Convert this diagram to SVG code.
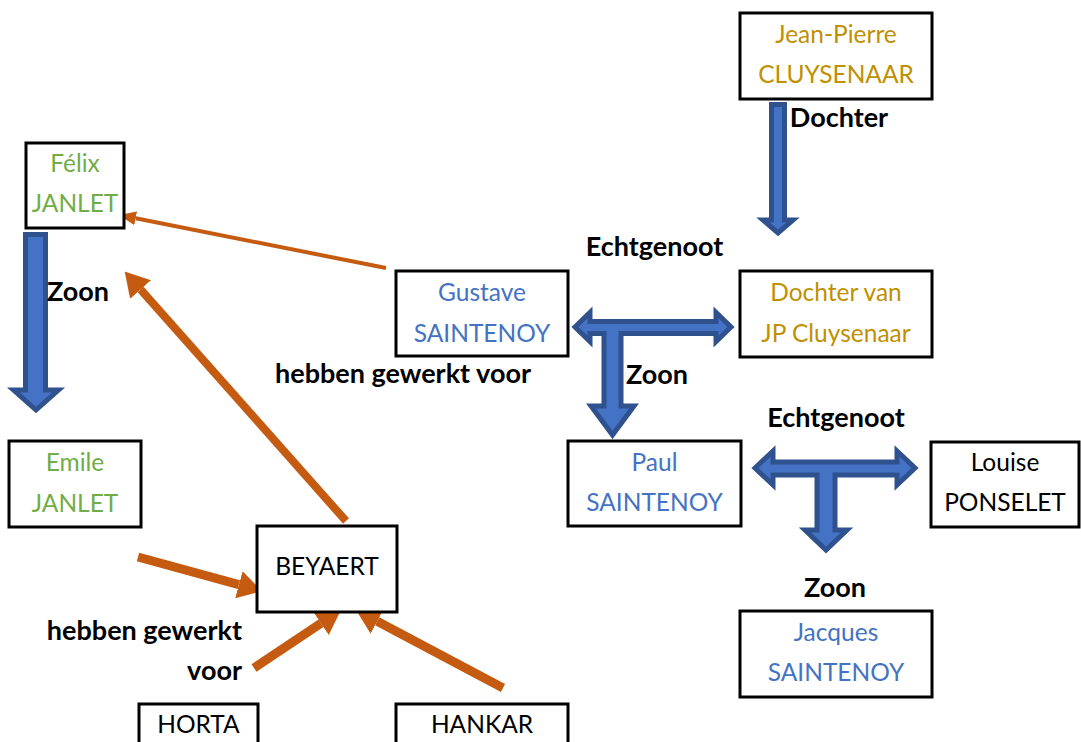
<svg xmlns="http://www.w3.org/2000/svg" width="1081" height="742" viewBox="0 0 1081 742">
<style>
.box{fill:#fff;stroke:#000;stroke-width:3}
.t{font-family:Lato,"Liberation Sans",sans-serif;font-size:24.5px;text-anchor:middle}
.lbl{font-family:Lato,"Liberation Sans",sans-serif;font-size:27px;font-weight:bold;fill:#000;text-anchor:middle}
.g{fill:#70AD47}.y{fill:#BF9000}.b{fill:#4472C4}.k{fill:#000}
.blk{fill:#4472C4;stroke:#2F528F;stroke-width:5;stroke-linejoin:miter}
.or{fill:none;stroke:#C55A11}
</style>
<defs>
<marker id="ahThin" markerUnits="userSpaceOnUse" viewBox="0 0 17 14" markerWidth="17" markerHeight="14" refX="0" refY="7" orient="auto"><path d="M0,0 L17,7 L0,14 Z" fill="#C55A11"/></marker>
<marker id="ahThick" markerUnits="userSpaceOnUse" viewBox="0 0 24 28" markerWidth="24" markerHeight="28" refX="0" refY="14" orient="auto"><path d="M0,0 L24,14 L0,28 Z" fill="#C55A11"/></marker>
</defs>
<rect width="1081" height="742" fill="#fff"/>
<g id="connectors">
<path class="blk" d="M771.5,104.5 H784.5 V220 H793 L778,233 L763,220 H771.5 Z"/>
<path class="blk" d="M25.5,234.5 H45.5 V390 H58.5 L36,410 L13.5,390 H25.5 Z"/>
<path class="blk" d="M575,327 L590,312.5 V321.5 H716 V312.5 L731,327 L716,341.5 V333.5 H621 V406 H634 L612.5,435 L591,406 H604 V333.5 H590 V341.5 Z"/>
<path class="blk" d="M755,468 L773,451 V462 H897 V451 L915,468 L897,485 V475 H835 V530 H847 L826,550 L805,530 H817 V475 H773 V485 Z"/>
<line class="or" x1="386" y1="268" x2="135.7" y2="218.3" stroke-width="4" marker-end="url(#ahThin)"/>
<line class="or" x1="346" y1="521" x2="140.6" y2="289.5" stroke-width="8" marker-end="url(#ahThick)"/>
<line class="or" x1="138" y1="557" x2="238.9" y2="584.7" stroke-width="9" marker-end="url(#ahThick)"/>
<line class="or" x1="254" y1="668" x2="321" y2="623.3" stroke-width="9" marker-end="url(#ahThick)"/>
<line class="or" x1="503" y1="688" x2="377.2" y2="621.3" stroke-width="9" marker-end="url(#ahThick)"/>
</g>
<g id="labels">
<text class="lbl" x="839" y="127">Dochter</text>
<text class="lbl" x="654.5" y="256">Echtgenoot</text>
<text class="lbl" x="657" y="384">Zoon</text>
<text class="lbl" x="836" y="427">Echtgenoot</text>
<text class="lbl" x="835" y="597">Zoon</text>
<text class="lbl" x="78" y="301">Zoon</text>
<text class="lbl" x="403" y="383">hebben gewerkt voor</text>
<text class="lbl" x="242" y="640" style="text-anchor:end">hebben gewerkt</text>
<text class="lbl" x="242" y="680" style="text-anchor:end">voor</text>
</g>
<g id="jean-pierre"><rect class="box" x="740" y="13" width="192" height="86"/><text class="t y" x="836" y="43">Jean-Pierre</text><text class="t y" x="836" y="83">CLUYSENAAR</text></g>
<g id="felix"><rect class="box" x="26" y="143" width="98" height="85"/><text class="t g" x="75" y="172">Félix</text><text class="t g" x="75" y="212">JANLET</text></g>
<g id="gustave"><rect class="box" x="396" y="271" width="172" height="85"/><text class="t b" x="482" y="301">Gustave</text><text class="t b" x="482" y="342">SAINTENOY</text></g>
<g id="dochter"><rect class="box" x="740" y="271" width="192" height="86"/><text class="t y" x="836" y="301">Dochter van</text><text class="t y" x="836" y="342">JP Cluysenaar</text></g>
<g id="paul"><rect class="box" x="568" y="441" width="173" height="85"/><text class="t b" x="654.5" y="471">Paul</text><text class="t b" x="654.5" y="511">SAINTENOY</text></g>
<g id="louise"><rect class="box" x="931" y="442" width="148" height="85"/><text class="t k" x="1005" y="471">Louise</text><text class="t k" x="1005" y="511">PONSELET</text></g>
<g id="jacques"><rect class="box" x="740" y="611" width="192" height="86"/><text class="t b" x="836" y="641">Jacques</text><text class="t b" x="836" y="681">SAINTENOY</text></g>
<g id="emile"><rect class="box" x="9" y="441" width="132" height="86"/><text class="t g" x="75" y="471">Emile</text><text class="t g" x="75" y="512">JANLET</text></g>
<g id="beyaert"><rect class="box" x="257" y="526" width="140" height="86"/><text class="t k" x="327" y="575">BEYAERT</text></g>
<g id="horta"><rect class="box" x="139" y="704" width="119" height="60"/><text class="t k" x="198.5" y="733">HORTA</text></g>
<g id="hankar"><rect class="box" x="396" y="704" width="172" height="60"/><text class="t k" x="482" y="733">HANKAR</text></g>
</svg>
